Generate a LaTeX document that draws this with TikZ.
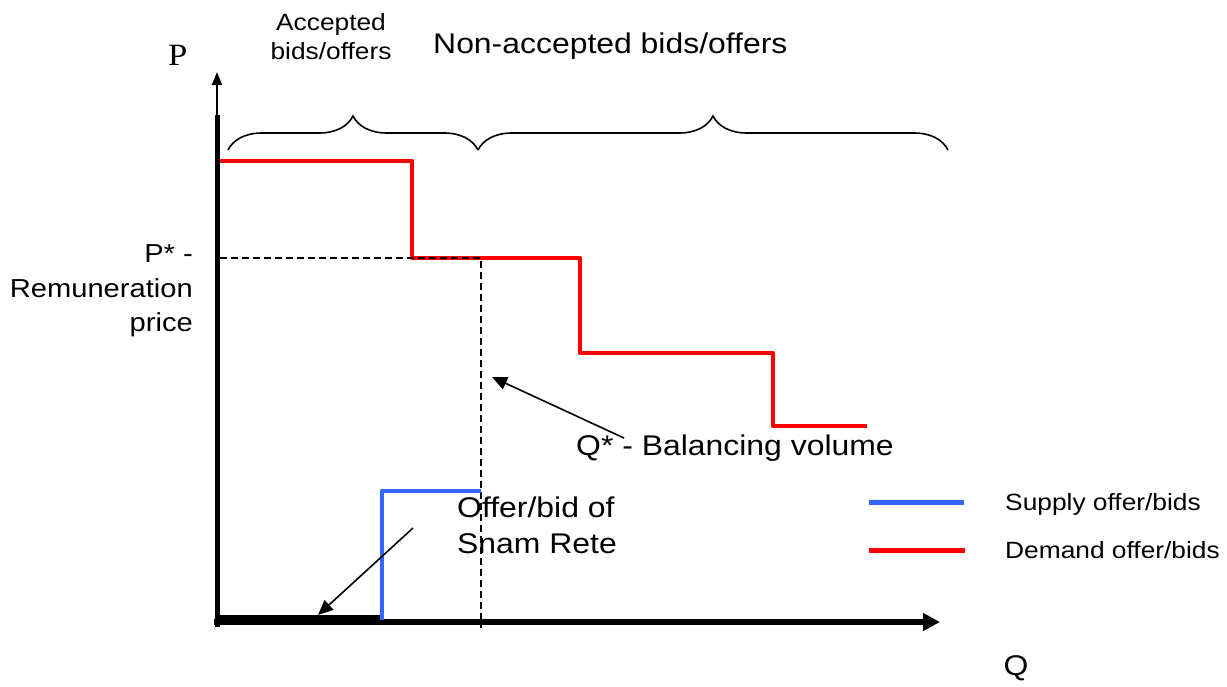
\documentclass[tikz,border=0pt]{standalone}
\usepackage{fontspec}
\setmainfont[FakeStretch=1.12]{Liberation Sans}
\newfontfamily\serifP[FakeStretch=1.12]{Liberation Serif}
\usetikzlibrary{arrows.meta,decorations.pathreplacing}
\definecolor{supplyblue}{RGB}{51,102,255}
\definecolor{demandred}{RGB}{255,0,0}
\newcommand\fs[1]{\fontsize{#1}{#1}\selectfont}
\begin{document}
\begin{tikzpicture}[x=1pt,y=-1pt,
  lbl/.style={inner sep=0pt, font=\fs{28.5}},
  small/.style={inner sep=0pt, font=\fs{23.5}},
  rem/.style={inner sep=0pt, font=\fs{26}},
  demand/.style={draw=demandred, line width=4.5pt, line join=round},
  supply/.style={draw=supplyblue, line width=4.5pt, line join=round},
  dashln/.style={draw=black, line width=1.5pt, dash pattern=on 7pt off 4pt},
  bracestyle/.style={draw=black, line width=1.6pt, decorate, decoration={brace, amplitude=34pt}},
  ptr/.style={draw=black, line width=1.6pt, -{Triangle[length=15pt,width=13pt]}}]
\useasboundingbox (0,0) rectangle (1227,686);
% axes
\coordinate (O) at (217,622);
\coordinate (Ytop) at (217,72);
\coordinate (Xend) at (940,622);
\draw[line width=5pt] (217,627) -- (217,115);
\draw[line width=2.2pt,-{Triangle[length=13pt,width=10pt]}] (217,117) -- (Ytop);
\draw[line width=6pt,-{Triangle[length=17pt,width=17pt]}] (214,622) -- (Xend);
\fill (219,615) rectangle (382,622);
% curves
\draw[demand] (220,161) -| (412,258) -| (580,353) -| (773,426) -- (867,426);
\draw[dashln] (220,258) -- (481,258) -- (481,628);
\draw[supply] (382,620) |- (481,491);
% braces
\draw[bracestyle] (228,150) -- (478,150);
\draw[bracestyle] (478,150) -- (948,150);
% texts
\node[inner sep=0pt, font=\serifP\fs{31}, anchor=base west] (P) at (168,65) {P};
\node[small, anchor=base] (acc1) at (331,30) {Accepted};
\node[small, anchor=base] (acc2) at (331,59) {bids/offers};
\node[lbl, anchor=base west] (nonacc) at (433,53) {Non-accepted bids/offers};
\node[rem, anchor=base east] (pst) at (193,262) {P* -};
\node[rem, anchor=base east] (remun) at (193,297) {Remuneration};
\node[rem, anchor=base east] (price) at (193,331) {price};
\node[lbl, anchor=base west] (qstar) at (576,455) {Q* - Balancing volume};
\node[lbl, anchor=base west] (offer1) at (457,517) {Offer/bid of};
\node[lbl, anchor=base west] (offer2) at (457,553) {Snam Rete};
\node[small, anchor=base west] (supt) at (1005,510) {Supply offer/bids};
\node[small, anchor=base west] (demt) at (1005,558) {Demand offer/bids};
\node[lbl, anchor=base] (Q) at (1016,675) {Q};
% legend
\draw[supply, line width=5pt] (869,502) -- (964,502);
\draw[demand, line width=5pt] (869,550) -- (965,550);
% pointer arrows
\coordinate (qstart) at (624,438);
\coordinate (qtip) at (492,377);
\draw[ptr] (qstart) -- (qtip);
\coordinate (ostart) at (413,528);
\coordinate (otip) at (318,615);
\draw[ptr] (ostart) -- (otip);
\end{tikzpicture}
\end{document}
